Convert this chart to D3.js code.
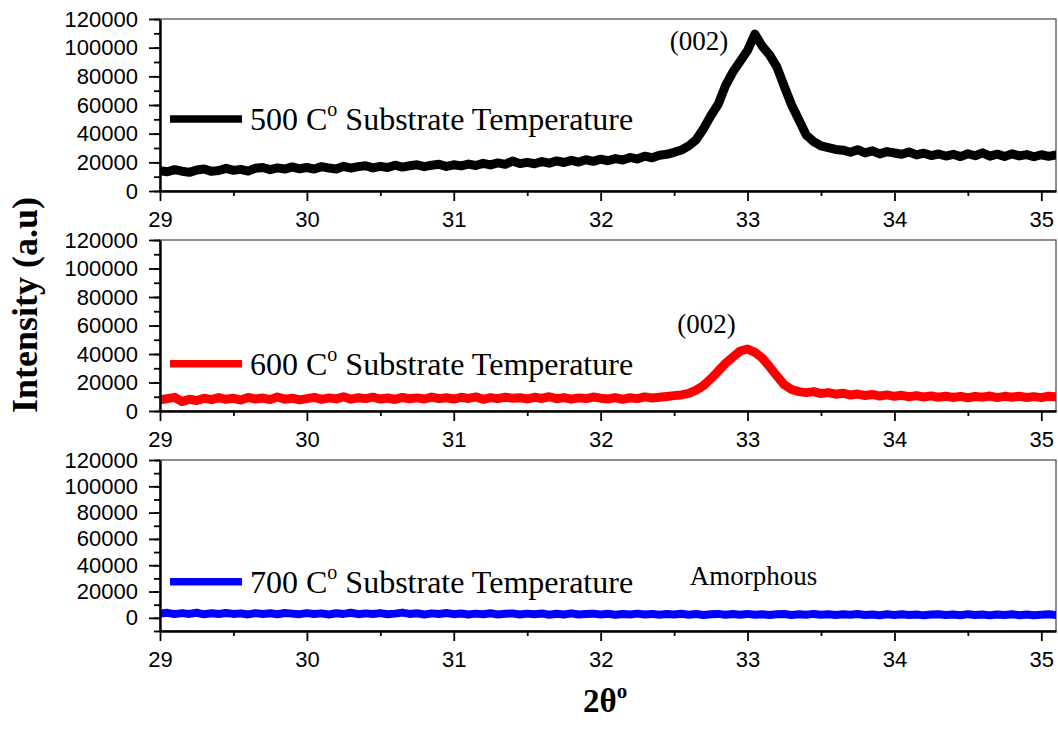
<!DOCTYPE html>
<html>
<head>
<meta charset="utf-8">
<script src="https://cdn.jsdelivr.net/npm/d3@7"></script>
<style>
  body { margin: 0; background: #fff; }
  svg { display: block; }
</style>
</head>
<body>
<div id="chart"></div>
<script>
// 2theta sampling grid (deg)
const twoTheta = [
  29.00, 29.05, 29.10, 29.15, 29.20, 29.25, 29.30, 29.35, 29.40, 29.45,
  29.50, 29.55, 29.60, 29.65, 29.70, 29.75, 29.80, 29.85, 29.90, 29.95,
  30.00, 30.05, 30.10, 30.15, 30.20, 30.25, 30.30, 30.35, 30.40, 30.45,
  30.50, 30.55, 30.60, 30.65, 30.70, 30.75, 30.80, 30.85, 30.90, 30.95,
  31.00, 31.05, 31.10, 31.15, 31.20, 31.25, 31.30, 31.35, 31.40, 31.45,
  31.50, 31.55, 31.60, 31.65, 31.70, 31.75, 31.80, 31.85, 31.90, 31.95,
  32.00, 32.05, 32.10, 32.15, 32.20, 32.25, 32.30, 32.35, 32.40, 32.45,
  32.50, 32.55, 32.60, 32.65, 32.70, 32.75, 32.80, 32.85, 32.90, 32.95,
  33.00, 33.05, 33.10, 33.15, 33.20, 33.25, 33.30, 33.35, 33.40, 33.45,
  33.50, 33.55, 33.60, 33.65, 33.70, 33.75, 33.80, 33.85, 33.90, 33.95,
  34.00, 34.05, 34.10, 34.15, 34.20, 34.25, 34.30, 34.35, 34.40, 34.45,
  34.50, 34.55, 34.60, 34.65, 34.70, 34.75, 34.80, 34.85, 34.90, 34.95,
  35.00, 35.05, 35.10
]

const intensity500 = [
  14200, 13400, 14900, 13800, 13000, 14700, 15400, 13700, 14300, 15800,
  14400, 15100, 13900, 15900, 16400, 14900, 16100, 15300, 16800, 15500,
  16400, 15300, 17000, 16000, 15400, 17200, 16000, 17000, 17600, 16100,
  17200, 16400, 18000, 16700, 17600, 18300, 17000, 18000, 18600, 17100,
  18300, 17500, 18800, 17800, 19300, 18200, 19600, 18600, 20900, 19100,
  20000, 19000, 20500, 19400, 21000, 19900, 21400, 20200, 21800, 20700,
  22200, 21100, 22600, 21600, 23400, 22300, 24300, 23200, 25000, 25600,
  27000, 28600, 31500, 35800, 43500, 52500, 60500, 73500, 83000, 90500,
  98000, 109500, 101000, 95000, 86500, 73000, 60000, 49500, 39000, 34500,
  31500, 30300, 29000, 28500, 27000, 28800, 26600, 28000, 25900, 27500,
  26500, 25600, 27200, 25200, 26400, 24700, 25800, 24400, 25600, 24000,
  26000, 24600, 26600, 24300, 25700, 24100, 25900, 24500, 25400, 23900,
  25300, 24200, 25100
]

const intensity600 = [
  7800, 8700, 9600, 6600, 8200, 7400, 9000, 8000, 9400, 8200,
  8900, 7700, 9500, 8400, 9100, 8000, 9800, 8300, 9000, 7800,
  8700, 9600, 8200, 9200, 8500, 10000, 8300, 9300, 8700, 9700,
  8400, 9100, 8100, 9500, 8600, 9200, 8400, 9800, 8700, 9300,
  8400, 9600, 8800, 9900, 8200, 9400, 8700, 9700, 9000, 9300,
  8500, 9600, 8800, 10000, 8600, 9400, 8300, 9200, 8700, 9800,
  9000, 8400, 9400, 8200, 9300, 8700, 9900, 9100, 9600, 10200,
  10800, 11300, 12400, 14600, 17800, 22600, 27900, 33400, 37800, 42100,
  43500, 41200, 37200, 31100, 24600, 18400, 15100, 13600, 12900, 13600,
  12200, 12900, 11800, 12500, 11200, 11900, 10900, 11600, 10500, 11300,
  10300, 11000, 10000, 10800, 9800, 10600, 9600, 10400, 9500, 10300,
  9300, 10200, 9700, 10500, 9400, 10300, 9600, 10400, 9500, 10100,
  9400, 10400, 9900
]

const intensity700 = [
  3200, 3800, 2800, 3600, 3000, 3900, 2700, 3500, 2900, 3700,
  3000, 3400, 2600, 3600, 2900, 3500, 2700, 3700, 3200, 2800,
  3600, 2900, 3400, 2600, 3500, 3000, 3900, 2800, 3400, 2900,
  3600, 2700, 3200, 4000, 3000, 3500, 2600, 3400, 2900, 3700,
  2800, 3300, 2500, 3200, 2700, 3500, 2600, 3100, 3400, 2500,
  3200, 2700, 3300, 2400, 3100, 2600, 3400, 2500, 3000, 3200,
  2600, 3100, 2400, 3000, 2600, 3200, 2500, 3000, 2300, 2900,
  2500, 3100, 2400, 2900, 2200, 2800, 3000, 2300, 2900, 2400,
  3000, 2300, 2800, 2100, 2700, 2900, 2200, 2800, 2300, 3000,
  2400, 2800, 2100, 2700, 2300, 2900, 2200, 2600, 2000, 2700,
  2200, 2800, 2100, 2600, 1900, 2500, 2700, 2100, 2600, 2000,
  2800, 2200, 2600, 1900, 2500, 2100, 2700, 2000, 2500, 1900,
  2300, 2700, 2200
]

const seriesLabels = ["500", "600", "700"]
const seriesColors = ["#000000", "#ff0000", "#0000ff"]
const xTicks = [29, 30, 31, 32, 33, 34, 35]
const yTicks = [0, 20000, 40000, 60000, 80000, 100000, 120000]
const notes = ["(002)", "(002)", "Amorphous"]

const width = 1058
const height = 731
const left = 160
const right = 1056

// one entry per stacked panel (pixel layout)
const panels = [
  {top: 19,  bottom: 191, yMin: 0,      values: intensity500, legendY: 100,   noteX: 32.67, noteY: 31,    lw: 9},
  {top: 240, bottom: 411, yMin: 0,      values: intensity600, legendY: 123.7, noteX: 32.72, noteY: 93,    lw: 9},
  {top: 460, bottom: 631, yMin: -10000, values: intensity700, legendY: 121.7, noteX: 33.04, noteY: 124.6, lw: 8}
]

const svg = d3.select("#chart")
  .append("svg")
  .attr("width", width)
  .attr("height", height)

const x = d3.scaleLinear().domain([29, 35.1]).range([left, right])

panels.forEach((p, i) => {
  const y = d3.scaleLinear().domain([p.yMin, 120000]).range([p.bottom, p.top])
  const g = svg.append("g")

  g.append("clipPath")
    .attr("id", "clip" + i)
    .append("rect")
    .attr("x", left)
    .attr("y", p.top)
    .attr("width", right - left)
    .attr("height", p.bottom - p.top)

  // thin frame top/right
  g.append("rect")
    .attr("x", left)
    .attr("y", p.top)
    .attr("width", right - left)
    .attr("height", p.bottom - p.top)
    .attr("fill", "none")
    .attr("stroke", "#444")
    .attr("stroke-width", 1.2)

  const line = d3.line()
    .x(d => x(d[0]))
    .y(d => y(d[1]))

  g.append("path")
    .datum(twoTheta.map((t, k) => [t, p.values[k]]))
    .attr("clip-path", `url(#clip${i})`)
    .attr("fill", "none")
    .attr("stroke", seriesColors[i])
    .attr("stroke-width", p.lw)
    .attr("stroke-linejoin", "round")
    .attr("stroke-linecap", "round")
    .attr("d", line)

  // y axis: minor then major
  const minorY = d3.range(p.yMin, 120001, 10000)
  g.append("g")
    .attr("transform", `translate(${left},0)`)
    .call(d3.axisLeft(y).tickValues(minorY).tickSize(6).tickSizeOuter(0).tickFormat(""))
    .call(a => a.select(".domain").remove())
    .call(a => a.selectAll("line").attr("stroke-width", 1.8))

  g.append("g")
    .attr("transform", `translate(${left},0)`)
    .call(d3.axisLeft(y).tickValues(yTicks).tickSize(11).tickSizeOuter(0).tickPadding(11).tickFormat(d3.format("d")))
    .call(a => a.select(".domain").attr("stroke-width", 2.4))
    .call(a => a.selectAll("line").attr("stroke-width", 1.8))
    .call(a => a.selectAll("text")
      .attr("font-family", "'Liberation Sans', Arial, sans-serif")
      .attr("font-size", 22)
      .attr("fill", "#000"))

  // x axis: minor then major
  const minorX = d3.range(29.5, 35.1, 1)
  g.append("g")
    .attr("transform", `translate(0,${p.bottom})`)
    .call(d3.axisBottom(x).tickValues(minorX).tickSize(5).tickSizeOuter(0).tickFormat(""))
    .call(a => a.select(".domain").remove())
    .call(a => a.selectAll("line").attr("stroke-width", 1.8))

  g.append("g")
    .attr("transform", `translate(0,${p.bottom})`)
    .call(d3.axisBottom(x).tickValues(xTicks).tickSize(10).tickSizeOuter(0).tickPadding(10).tickFormat(d3.format("d")))
    .call(a => a.select(".domain").attr("stroke-width", 2.6))
    .call(a => a.selectAll("line").attr("stroke-width", 1.8))
    .call(a => a.selectAll("text")
      .attr("font-family", "'Liberation Sans', Arial, sans-serif")
      .attr("font-size", 22)
      .attr("fill", "#000"))

  // legend
  const ly = p.top + p.legendY
  g.append("line")
    .attr("x1", 170).attr("x2", 242)
    .attr("y1", ly).attr("y2", ly)
    .attr("stroke", seriesColors[i])
    .attr("stroke-width", 7.5)

  const lt = g.append("text")
    .attr("x", 250)
    .attr("y", ly + 11)
    .attr("font-family", "'Liberation Serif', 'Times New Roman', serif")
    .attr("font-size", 32)
    .attr("fill", "#000")
  lt.append("tspan").text(seriesLabels[i] + " C")
  lt.append("tspan").attr("dy", -14).attr("font-size", 20).text("o")
  lt.append("tspan").attr("dy", 14).text(" Substrate Temperature")

  // peak note
  g.append("text")
    .attr("x", x(p.noteX))
    .attr("y", p.top + p.noteY)
    .attr("text-anchor", "middle")
    .attr("font-family", "'Liberation Serif', 'Times New Roman', serif")
    .attr("font-size", 27)
    .attr("fill", "#000")
    .text(notes[i])
})

// axis titles
svg.append("text")
  .attr("transform", "translate(37,305) rotate(-90)")
  .attr("text-anchor", "middle")
  .attr("font-family", "'Liberation Serif', 'Times New Roman', serif")
  .attr("font-weight", "bold")
  .attr("font-size", 36)
  .text("Intensity (a.u)")

const xt = svg.append("text")
  .attr("x", 583)
  .attr("y", 712)
  .attr("font-family", "'Liberation Serif', 'Times New Roman', serif")
  .attr("font-weight", "bold")
  .attr("font-size", 33)
xt.append("tspan").text("2θ")
xt.append("tspan").attr("dy", -14).attr("font-size", 21).text("o")
</script>
</body>
</html>
